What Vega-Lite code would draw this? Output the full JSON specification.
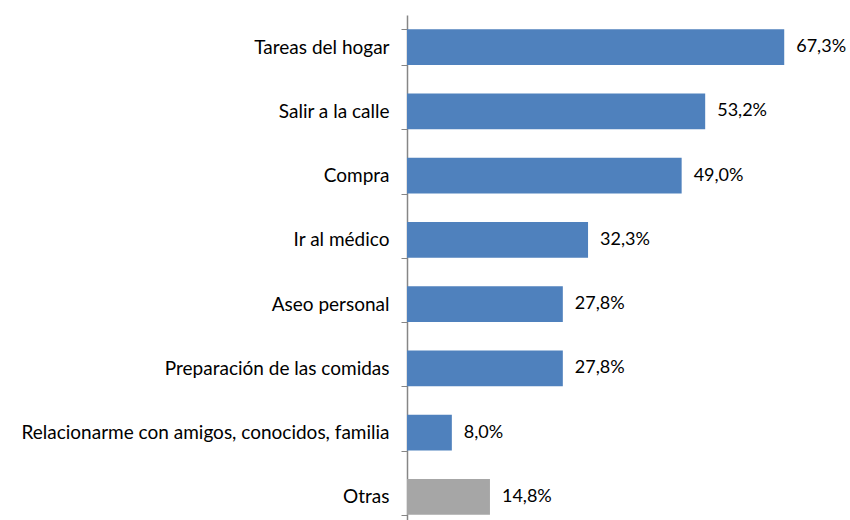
{
  "$schema": "https://vega.github.io/schema/vega-lite/v6.json",
  "autosize": "none",
  "padding": {"left": 407, "top": 15, "right": 0, "bottom": 0},
  "width": 440,
  "height": 514,
  "background": "white",
  "config": {
    "view": {"stroke": null},
    "font": "Lato",
    "locale": {"number": {"decimal": ",", "thousands": ".", "grouping": [3], "currency": ["", " €"]}}
  },
  "data": {
    "values": [
      {"cat": "Tareas del hogar", "val": 0.673, "grp": "a"},
      {"cat": "Salir a la calle", "val": 0.532, "grp": "a"},
      {"cat": "Compra", "val": 0.490, "grp": "a"},
      {"cat": "Ir al médico", "val": 0.323, "grp": "a"},
      {"cat": "Aseo personal", "val": 0.278, "grp": "a"},
      {"cat": "Preparación de las comidas", "val": 0.278, "grp": "a"},
      {"cat": "Relacionarme con amigos, conocidos, familia", "val": 0.080, "grp": "a"},
      {"cat": "Otras", "val": 0.148, "grp": "b"}
    ]
  },
  "encoding": {
    "y": {
      "field": "cat", "type": "nominal", "sort": null,
      "scale": {"paddingInner": 0.44, "paddingOuter": 0.22},
      "axis": {
        "title": null, "domainColor": "#868686", "domainWidth": 1.5,
        "tickColor": "#868686", "tickSize": 6, "tickBand": "extent",
        "labelFontSize": 19, "labelColor": "#000000", "labelPadding": 12,
        "labelFont": "Lato", "labelLimit": 500
      }
    },
    "x": {
      "field": "val", "type": "quantitative",
      "scale": {"domain": [0, 0.785]},
      "axis": null
    }
  },
  "layer": [
    {
      "mark": {"type": "bar"},
      "encoding": {
        "color": {"field": "grp", "type": "nominal", "scale": {"domain": ["a", "b"], "range": ["#4F81BD", "#A6A6A6"]}, "legend": null}
      }
    },
    {
      "mark": {"type": "text", "align": "left", "dx": 12, "fontSize": 18, "color": "#000000"},
      "encoding": {
        "text": {"field": "val", "type": "quantitative", "format": ".1%"}
      }
    }
  ]
}
